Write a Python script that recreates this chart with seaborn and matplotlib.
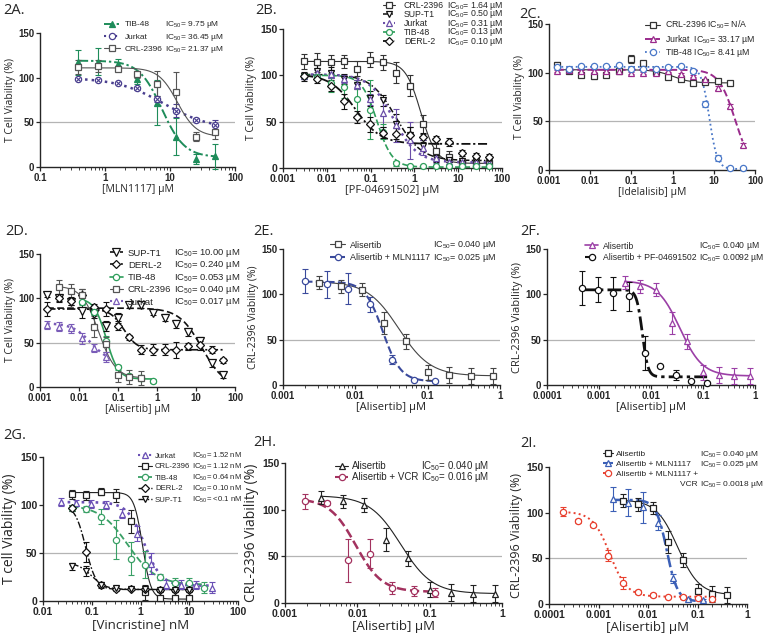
import numpy as np
import pandas as pd
import seaborn as sns
import matplotlib
matplotlib.use("Agg")
import matplotlib.pyplot as plt
from matplotlib.lines import Line2D
from matplotlib.ticker import LogLocator, NullFormatter

sns.set_style("ticks")
plt.rcParams['font.family'] = ['Liberation Sans', 'DejaVu Sans']
plt.rcParams['mathtext.fontset'] = 'custom'
plt.rcParams['mathtext.rm'] = 'Liberation Sans'
plt.rcParams['mathtext.it'] = 'Liberation Sans:italic'
plt.rcParams['mathtext.bf'] = 'Liberation Sans:bold'
plt.rcParams['axes.linewidth'] = 1.0

W, H = 765, 636
LABEL_FONT = ['Open Sans', 'DejaVu Sans']

# ---------------- 2A  MLN1117 ----------------
a_dose = [0.39, 0.78, 1.56, 3.125, 6.25, 12.5, 25, 50]
a_tib = [117, 118, 115, 99, 72, 34, 9, 12]
a_tib_err = [14, 15, 6, 6, 25, 21, 6, 14]
a_jur = [99, 97.5, 94, 88, 76, 63, 53, 47]
a_jur_err = [1, 1, 1, 1.5, 3, 7, 2, 6]
a_crl = [112, 113, 110, 104, 93, 84, 34, 39]
a_crl_err = [8, 7, 3, 4, 14, 22, 5, 8]
# fitted curves: top, bottom, midpoint, hill slope
a_tib_fit = [119, 11, 7.5, 2.5]
a_jur_fit = [100, 42, 8, 1.2]
a_crl_fit = [111, 34, 13, 3]

# ---------------- 2B  PF-04691502 ----------------
b_dose = [0.00305, 0.0061, 0.0122, 0.0244, 0.0488, 0.0977, 0.195, 0.39, 0.78,
          1.56, 3.125, 6.25, 12.5, 25, 50]
b_crl = [115, 114, 114, 115, 107, 117, 114, 103, 89, 47, 18, 12, 5, 5, 5]
b_crl_err = [8, 10, 8, 7, 8, 8, 8, 11, 11, 10, 8, 6, 4, 4, 4]
b_sup = [99, 105, 103, 96, 90, 75, 73, 48, 36, 24, 11, 9, 8, 8, 8]
b_sup_err = [5, 6, 6, 5, 5, 8, 6, 10, 8, 6, 4, 3, 3, 3, 3]
b_jur = [99, 102, 101, 96, 90, 74, 59, 46, 30, 22, 11, 7, 6, 6, 5]
b_jur_err = [3, 4, 4, 4, 5, 6, 15, 18, 20, 8, 6, 4, 3, 3, 3]
b_tib = [99, 98, 92, 87, 74, 63, 39, 5, 2, 2, 2, 2, 2, 2, 2]
b_tib_err = [2, 3, 10, 12, 18, 32, 8, 3, 1, 1, 1, 1, 1, 1, 1]
b_derl = [99, 96, 89, 72, 55, 47, 38, 37, 36, 33, 31, 28, 16, 13, 12]
b_derl_err = [3, 4, 6, 8, 6, 8, 6, 6, 8, 5, 4, 4, 3, 3, 3]
b_crl_fit = [115, 5, 1.4, 2.5]
b_sup_fit = [101, 8, 0.38, 1.5]
b_jur_fit = [101, 6, 0.33, 1.6]
b_tib_fit = [100, 1, 0.14, 2.5]
b_derl_fit = [101, 26, 0.045, 1.5]

# ---------------- 2C  Idelalisib ----------------
c_dose = [0.00153, 0.00305, 0.0061, 0.0122, 0.0244, 0.0488, 0.0977, 0.195, 0.39,
          0.78, 1.56, 3.125, 6.25, 12.5, 25, 50]
c_crl = [108, 102, 98, 97, 98, 102, 114, 110, 101, 96, 93, 89, 90, 91, 89]
c_crl_err = [3, 1, 2, 3, 1, 1, 4, 2, 2, 2, 1, 1, 1, 1, 1]
c_jur = [102, 103, 102, 102, 102, 102, 100, 100, 100, 102, 99, 97, 93, 84, 66, 26]
c_jur_err = [1, 1, 1, 1, 1, 1, 1, 1, 1, 1, 1, 1, 1, 2, 2, 2]
c_tib = [106, 104, 107, 107, 107, 108, 104, 104, 104, 106, 107, 102, 68, 12, 2, 2]
c_tib_err = [1, 1, 1, 1, 1, 1, 1, 1, 1, 1, 1, 2, 3, 3, 1, 1]
c_crl_fit = [103, 89.5, 1.0, 2]
c_jur_fit = [103, 0, 33, 2.2]
c_tib_fit = [106, 1, 7.8, 4.5]

# ---------------- 2D  Alisertib, cell lines ----------------
d_dose = c_dose
d_sup = [104, 100, 96, 86, 82, 69, 78, 92, 92, 84, 78, 71, 62, 52, 27, 13]
d_sup_err = [3, 3, 4, 8, 4, 6, 6, 3, 3, 3, 4, 5, 4, 4, 4, 3]
d_derl = [88, 100, 97, 104, 90, 88, 69, 56, 42, 42, 42, 42, 46, 47, 42, 30]
d_derl_err = [8, 4, 5, 7, 4, 8, 5, 3, 5, 6, 6, 9, 4, 5, 4, 3]
d_tib = [96, 85, 52, 22, 12, 10, 7]
d_tib_err = [4, 4, 5, 3, 3, 3, 2]
d_crl = [113, 108, 104, 68, 48, 14, 11, 10]
d_crl_err = [8, 8, 7, 12, 8, 8, 8, 8]
d_jur = [70, 68, 66, 55, 44, 34]
d_jur_err = [5, 5, 5, 6, 5, 6]
d_sup_fit = [89, 0, 14, 1.5]
d_derl_fit = [88, 42, 0.14, 2.5]
d_tib_fit = [100, 9, 0.05, 2.8]
d_crl_fit = [114, 10, 0.032, 2]
d_jur_fit = [72, 28, 0.02, 1.8]

# ---------------- shared CRL-2396 Alisertib series (E, F, H, I) ----------------
alis_dose = [0.003125, 0.00625, 0.0125, 0.025, 0.05, 0.1, 0.2, 0.4, 0.8]
alis_val = [113, 109, 105, 68, 48, 14, 11, 10, 10]
alis_err = [7, 7, 7, 12, 8, 8, 9, 9, 9]
mln_combo_dose = [0.002, 0.004, 0.008, 0.016, 0.032, 0.064, 0.128]
mln_combo_val = [115, 111, 106, 89, 28, 6, 4]
mln_combo_err = [13, 15, 17, 8, 5, 1, 1]

e_alis_fit = [114, 10, 0.04, 2]
e_mln_fit = [114, 4, 0.024, 3.5]

# ---------------- 2F ----------------
f_pf_dose = [0.00047, 0.00094, 0.001875, 0.00375, 0.0075, 0.015, 0.03, 0.06, 0.12]
f_pf = [107, 105, 101, 98, 35, 21, 11, 4, 2]
f_pf_err = [19, 14, 18, 16, 19, 1, 6, 1, 1]
f_alis_fit = [115, 10, 0.036, 2]
f_pf_fit = [105, 9, 0.0068, 8]

# ---------------- 2G  Vincristine ----------------
g_jur_dose = [0.023, 0.047, 0.095, 0.2, 0.41, 0.83, 1.68, 3.4, 6.9, 14, 29.6]
g_jur = [103, 102, 101, 100, 91, 70, 39, 17, 17, 17, 14]
g_jur_err = [4, 3, 4, 4, 5, 8, 11, 5, 5, 4, 6]
g_dose = [0.039, 0.078, 0.156, 0.3125, 0.625, 1.25, 2.5, 5, 10, 20]
g_crl = [111, 110, 114, 110, 83, 9, 3, 3, 3]
g_crl_err = [5, 5, 4, 7, 12, 8, 1, 1, 1]
g_tib = [97, 96, 88, 64, 44, 38, 25, 19, 19, 14]
g_tib_err = [3, 3, 8, 20, 17, 14, 3, 5, 5, 6]
g_derl = [97, 51, 17, 12, 13, 12, 11, 11, 11]
g_derl_err = [3, 10, 3, 2, 2, 2, 2, 2, 2]
g_sup = [36, 31, 17, 14, 13, 12, 11, 11, 11]
g_sup_err = [4, 5, 2, 2, 2, 2, 2, 2, 2]
g_jur_fit = [103, 16, 1.2, 2.5]
g_crl_fit = [113, 2, 1.1, 5]
g_tib_fit = [100, 17, 0.55, 1.5]
g_derl_fit = [100, 12, 0.075, 4]
g_sup_fit = [40, 12, 0.1, 3]

# ---------------- 2H ----------------
h_vcr_dose = [0.001875, 0.00375, 0.0075, 0.015, 0.03, 0.06, 0.12]
h_vcr = [109, 107, 46, 53, 16, 13, 11]
h_vcr_err = [8, 2, 23, 16, 6, 5, 5]
h_alis_fit = [115, 10, 0.04, 2]
h_vcr_fit = [112, 12, 0.0095, 2.4]

# ---------------- 2I ----------------
i_vcr_dose = [0.000195, 0.00039, 0.00078, 0.00156, 0.003125, 0.00625, 0.0125,
              0.025, 0.05, 0.1, 0.2]
i_vcr = [101, 91, 86, 53, 23, 13, 10, 8, 8, 7, 5]
i_vcr_err = [5, 2, 2, 6, 7, 2, 2, 1, 2, 2, 2]
i_alis_fit = [114, 10, 0.04, 2]
i_mln_fit = [114, 3, 0.024, 4]
i_vcr_fit = [101, 8, 0.0017, 2.5]

DASHDOT = (0, (5, 1.5, 1.2, 1.5))
DASHDOTDOT = (0, (5, 1.5, 1.2, 1.5, 1.2, 1.5))

fig = plt.figure(figsize=(W / 100, H / 100), dpi=100)
legend_jobs = []


def logistic(x, top, bottom, mid, hill):
    return bottom + (top - bottom) / (1 + (x / mid) ** hill)


def panel(box, xlim, xticks, xticklabels, xlabel, ylabel, tick_fs=7, xl_fs=7.5, yl_fs=7.5):
    left, right, top, bottom = box
    ax = fig.add_axes([left / W, 1 - bottom / H, (right - left) / W, (bottom - top) / H])
    ax.set_xscale('log')
    ax.set_xlim(*xlim)
    ax.set_ylim(0, 150)
    ax.set_yticks([0, 50, 100, 150])
    ax.set_yticklabels(['0', '50', '100', '150'], fontweight='bold', fontsize=tick_fs)
    ax.set_xticks(xticks)
    ax.set_xticklabels(xticklabels, fontweight='bold', fontsize=tick_fs)
    ax.xaxis.set_minor_locator(LogLocator(base=10, subs=np.arange(2, 10)))
    ax.xaxis.set_minor_formatter(NullFormatter())
    ax.tick_params(which='major', length=3, width=0.9, pad=1)
    ax.tick_params(which='minor', length=1.8, width=0.6)
    ax.set_xlabel(xlabel, fontsize=xl_fs, family=LABEL_FONT, labelpad=1)
    ax.set_ylabel(ylabel, fontsize=yl_fs, family=LABEL_FONT, labelpad=2)
    sns.despine(ax=ax)
    ax.axhline(50, color='#b4b4b4', lw=0.9, zorder=0)
    return ax


def series(ax, dose, val, err, fit, color, marker, ls, lw, ms=4.5, filled=False, cross=False):
    xs = np.geomspace(min(dose), max(dose), 300)
    curve = pd.DataFrame({'dose': xs, 'viability': logistic(xs, *fit)})
    sns.lineplot(data=curve, x='dose', y='viability', ax=ax, color=color,
                 linestyle=ls, linewidth=lw, zorder=2, legend=False)
    ax.errorbar(dose, val, yerr=err, fmt='none', ecolor=color, elinewidth=0.8,
                capsize=2.2, capthick=0.8, zorder=3, clip_on=False)
    face = color if filled else 'white'
    ax.plot(dose, val, ls='none', marker=marker, ms=ms, mfc=face, mec=color,
            mew=0.9, zorder=4, clip_on=False)
    if cross:
        ax.plot(dose, val, ls='none', marker='x', ms=ms * 0.6, mec=color, mew=0.8,
                zorder=5, clip_on=False)
    return Line2D([], [], color=color, ls=ls, lw=min(lw, 1.5), marker=marker, ms=ms,
                  mfc=face, mec=color, mew=0.9)


def build_legend(job):
    fpx = job['fs'] * 100 / 72
    job['leg'] = job['ax'].legend(
        job['handles'], job['names'], loc='upper left',
        bbox_to_anchor=(job['hx'] / W, 1 - job['top'] / H),
        bbox_transform=fig.transFigure, frameon=False, fontsize=job['fs'],
        handlelength=job['hl'] / fpx, handletextpad=(job['tx'] - job['hx'] - job['hl']) / fpx,
        labelspacing=job['ls'], borderpad=0, borderaxespad=0)


def legend(ax, handles, names, ics, hx, row1, row_sp, fs, hl_px, tx_px, extra=None):
    fpx = fs * 100 / 72
    job = dict(ax=ax, handles=handles, names=names, ics=ics, hx=hx, row1=row1,
               row_sp=row_sp, fs=fs, hl=hl_px, tx=tx_px, extra=extra,
               top=row1 - 0.5 * fpx, ls=(row_sp - fpx) / fpx)
    build_legend(job)
    legend_jobs.append(job)


def title(x, y, s):
    fig.text(x / W, 1 - y / H, s, fontsize=10.5, family=LABEL_FONT, va='top')


def ic(v):
    return 'IC$_{50}$= ' + v


# ---------- 2A ----------
ax = panel((40, 235, 33, 167), (0.1, 100), [0.1, 1, 10, 100], ['0.1', '1', '10', '100'],
           '[MLN1117] µM', 'T Cell Viability (%)')
h1 = series(ax, a_dose, a_tib, a_tib_err, a_tib_fit, '#1e8c5a', '^', DASHDOT, 1.4, filled=True)
h2 = series(ax, a_dose, a_jur, a_jur_err, a_jur_fit, '#4a3f8f', 'o', ':', 1.8, cross=True)
h3 = series(ax, a_dose, a_crl, a_crl_err, a_crl_fit, '#555555', 's', '-', 0.8)
legend(ax, [h1, h2, h3], ['TIB-48', 'Jurkat', 'CRL-2396'],
       [ic('9.75 µM'), ic('36.45 µM'), ic('21.37 µM')], 104, 25, 12.3, 6.0, 16, 125)
title(3, 3, '2A.')

# ---------- 2B ----------
ax = panel((283, 502, 29, 168), (0.001, 100), [0.001, 0.01, 0.1, 1, 10, 100],
           ['0.001', '0.01', '0.1', '1', '10', '100'], '[PF-04691502] µM',
           'T Cell Viability (%)', tick_fs=7.5, xl_fs=8)
h1 = series(ax, b_dose, b_crl, b_crl_err, b_crl_fit, '#333333', 's', '-', 0.8, ms=4.3)
h2 = series(ax, b_dose, b_sup, b_sup_err, b_sup_fit, '#111111', 'v', (0, (4, 1.5, 1, 1.5)), 1.1, ms=4.3)
h3 = series(ax, b_dose, b_jur, b_jur_err, b_jur_fit, '#6b4fa8', '^', ':', 1.8, ms=4.3)
h4 = series(ax, b_dose, b_tib, b_tib_err, b_tib_fit, '#2e9e5b', 'o', '--', 1.2, ms=4.3)
h5 = series(ax, b_dose, b_derl, b_derl_err, b_derl_fit, '#111111', 'D', DASHDOT, 1.3, ms=3.8)
legend(ax, [h1, h2, h3, h4, h5], ['CRL-2396', 'SUP-T1', 'Jurkat', 'TIB-48', 'DERL-2'],
       [ic('1.64 µM'), ic('0.50 µM'), ic('0.31 µM'), ic('0.13 µM'), ic('0.10 µM')],
       383, 5.5, 9.0, 6.3, 12, 404)
title(255, 3, '2B.')

# ---------- 2C ----------
ax = panel((549, 755, 24, 170), (0.001, 100), [0.001, 0.01, 0.1, 1, 10, 100],
           ['0.001', '0.01', '0.1', '1', '10', '100'], '[Idelalisib] µM',
           'T Cell Viability (%)')
h1 = series(ax, c_dose[:15], c_crl, c_crl_err, c_crl_fit, '#333333', 's', '-', 0.8)
h2 = series(ax, c_dose, c_jur, c_jur_err, c_jur_fit, '#9a2b8c', '^', '--', 1.4)
h3 = series(ax, c_dose, c_tib, c_tib_err, c_tib_fit, '#4a78c8', 'o', ':', 1.3)
legend(ax, [h1, h2, h3],
       ['CRL-2396 ' + ic('N/A'), 'Jurkat  ' + ic('33.17 µM'), 'TIB-48 ' + ic('8.41 µM')],
       None, 645, 25, 14, 6.3, 15, 665)
title(519, 7, '2C.')

# ---------- 2D ----------
ax = panel((40, 235, 254, 387), (0.001, 100), [0.001, 0.01, 0.1, 1, 10, 100],
           ['0.001', '0.01', '0.1', '1', '10', '100'], '[Alisertib] µM',
           'T Cell Viability (%)')
h1 = series(ax, d_dose, d_sup, d_sup_err, d_sup_fit, '#111111', 'v', (0, (4, 2)), 1.2, ms=5.2)
h2 = series(ax, d_dose, d_derl, d_derl_err, d_derl_fit, '#111111', 'D', DASHDOTDOT, 1.2, ms=4.3)
h3 = series(ax, d_dose[3:10], d_tib, d_tib_err, d_tib_fit, '#2e9e5b', 'o', '-', 1.2, ms=4.5)
h4 = series(ax, d_dose[1:9], d_crl, d_crl_err, d_crl_fit, '#555555', 's', '-', 0.8, ms=5)
h5 = series(ax, d_dose[0:6], d_jur, d_jur_err, d_jur_fit, '#7a5cb8', '^', ':', 1.8, ms=5)
legend(ax, [h1, h2, h3, h4, h5], ['SUP-T1', 'DERL-2', 'TIB-48', 'CRL-2396', 'Jurkat'],
       [ic('10.00 µM'), ic('0.240 µM'), ic('0.053 µM'), ic('0.040 µM'), ic('0.017 µM')],
       110, 253, 12.3, 6.8, 13, 128)
title(5, 224, '2D.')

# ---------- 2E ----------
ax = panel((283, 500, 249, 385), (0.001, 1), [0.001, 0.01, 0.1, 1],
           ['0.001', '0.01', '0.1', '1'], '[Alisertib] µM', 'CRL-2396 Viability (%)', xl_fs=8)
h1 = series(ax, alis_dose, alis_val, alis_err, e_alis_fit, '#444444', 's', '-', 0.8)
h2 = series(ax, mln_combo_dose, mln_combo_val, mln_combo_err, e_mln_fit, '#3a4a9c', 'o', '--', 1.5)
legend(ax, [h1, h2], ['Alisertib', 'Alisertib + MLN1117'],
       [ic('0.040 µM'), ic('0.025 µM')], 330, 245, 12.5, 6.5, 15, 350)
title(253, 224, '2E.')

# ---------- 2F ----------
ax = panel((547, 755, 249, 385), (0.0001, 1), [0.0001, 0.001, 0.01, 0.1, 1],
           ['0.0001', '0.001', '0.01', '0.1', '1'], '[Alisertib] µM',
           'CRL-2396 Viability (%)', xl_fs=8, yl_fs=8)
h1 = series(ax, alis_dose, alis_val, alis_err, f_alis_fit, '#9b3fa6', '^', '-', 1.2)
h2 = series(ax, f_pf_dose, f_pf, f_pf_err, f_pf_fit, '#111111', 'o', DASHDOT, 2.0)
legend(ax, [h1, h2], ['Alisertib', 'Alisertib + PF-04691502'],
       [ic('0.040 µM'), ic('0.0092 µM')], 585, 246, 11.5, 6.2, 13, 603)
title(520, 224, '2F.')

# ---------- 2G ----------
ax = panel((43, 238, 457, 601), (0.01, 100), [0.01, 0.1, 1, 10, 100],
           ['0.01', '0.1', '1', '10', '100'], '[Vincristine] nM', 'T cell Viability (%)',
           tick_fs=7.5, xl_fs=9.5, yl_fs=10)
h1 = series(ax, g_jur_dose, g_jur, g_jur_err, g_jur_fit, '#6a50b5', '^', ':', 1.9)
h2 = series(ax, g_dose[:9], g_crl, g_crl_err, g_crl_fit, '#222222', 's', '-', 0.8)
h3 = series(ax, g_dose, g_tib, g_tib_err, g_tib_fit, '#3aa066', 'o', '--', 1.3)
h4 = series(ax, g_dose[:9], g_derl, g_derl_err, g_derl_fit, '#111111', 'D', DASHDOT, 1.0, ms=3.8)
h5 = series(ax, g_dose[:9], g_sup, g_sup_err, g_sup_fit, '#111111', 'v', DASHDOT, 1.0)
legend(ax, [h1, h2, h3, h4, h5], ['Jurkat', 'CRL-2396', 'TIB-48', 'DERL-2', 'SUP-T1'],
       ['IC$_{50}$= 1.52 nM', 'IC$_{50}$= 1.12 nM', 'IC$_{50}$= 0.64 nM',
        'IC$_{50}$= 0.10 nM', 'IC$_{50}$= <0.1 nM'], 138, 456, 11.0, 5.6, 14, 155)
title(3, 428, '2G.')

# ---------- 2H ----------
ax = panel((285, 502, 463, 603), (0.001, 1), [0.001, 0.01, 0.1, 1],
           ['0.001', '0.01', '0.1', '1'], '[Alisertib] µM', 'CRL-2396 Viability (%)',
           tick_fs=7.5, xl_fs=9.5, yl_fs=10)
h1 = series(ax, alis_dose, alis_val, alis_err, h_alis_fit, '#222222', '^', '-', 0.8)
h2 = series(ax, h_vcr_dose, h_vcr, h_vcr_err, h_vcr_fit, '#a3325f', 'o', '--', 1.8)
legend(ax, [h1, h2], ['Alisertib', 'Alisertib + VCR'],
       [ic('0.040 µM'), ic('0.016 µM')], 335, 466, 11, 7.0, 13, 352)
title(253, 435, '2H.')

# ---------- 2I ----------
ax = panel((549, 747, 467, 604), (0.0001, 1), [0.0001, 0.001, 0.01, 0.1, 1],
           ['0.0001', '0.001', '0.01', '0.1', '1'], '[Alisertib] µM',
           'CRL-2396 Viability (%)', tick_fs=7.5, xl_fs=9.5, yl_fs=9)
h1 = series(ax, alis_dose[:8], alis_val[:8], alis_err[:8], i_alis_fit, '#222222', 's', '-', 0.8)
h2 = series(ax, mln_combo_dose, mln_combo_val, mln_combo_err, i_mln_fit, '#3b5fb6', '^', DASHDOT, 1.8)
h3 = series(ax, i_vcr_dose, i_vcr, i_vcr_err, i_vcr_fit, '#e8402f', 'o', ':', 1.4)
legend(ax, [h1, h2, h3], ['Alisertib', 'Alisertib + MLN1117', 'Alisertib + MLN1117 +'],
       [ic('0.040 µM'), ic('0.025 µM'), None], 603, 454, 10.3, 6.0, 10, 616,
       extra=('VCR ', ic('0.0018 µM')))
title(520, 436, '2I.')

# pass 1: measure legend rows, correct spacing and offset, rebuild
fig.canvas.draw()
renderer = fig.canvas.get_renderer()
fh = fig.bbox.height
for job in legend_jobs:
    fpx = job['fs'] * 100 / 72
    boxes = [t.get_window_extent(renderer) for t in job['leg'].get_texts()]
    centers = [fh - (b.y0 + b.y1) / 2 for b in boxes]
    actual = (centers[-1] - centers[0]) / (len(centers) - 1)
    text_h = actual - job['ls'] * fpx
    job['ls'] = (job['row_sp'] - text_h) / fpx
    job['top'] += job['row1'] - centers[0]
    build_legend(job)

# pass 2: IC50 column right after the longest legend name
fig.canvas.draw()
renderer = fig.canvas.get_renderer()
fw = fig.bbox.width
for job in legend_jobs:
    if job['ics'] is None:
        continue
    fs = job['fs']
    boxes = [t.get_window_extent(renderer) for t in job['leg'].get_texts()]
    col = max(b.x1 for b in boxes) + 0.28 * fs * 100 / 72
    for b, s in zip(boxes, job['ics']):
        if s:
            fig.text(col / fw, (b.y0 + b.y1) / 2 / fh, s, fontsize=fs, va='center')
    if job['extra']:
        yc = (boxes[-1].y0 + boxes[-1].y1) / 2 - job['row_sp']
        fig.text(col / fw, yc / fh, job['extra'][0], fontsize=fs, va='center', ha='right')
        fig.text(col / fw, yc / fh, job['extra'][1], fontsize=fs, va='center')

fig.savefig('out.png', dpi=100)
